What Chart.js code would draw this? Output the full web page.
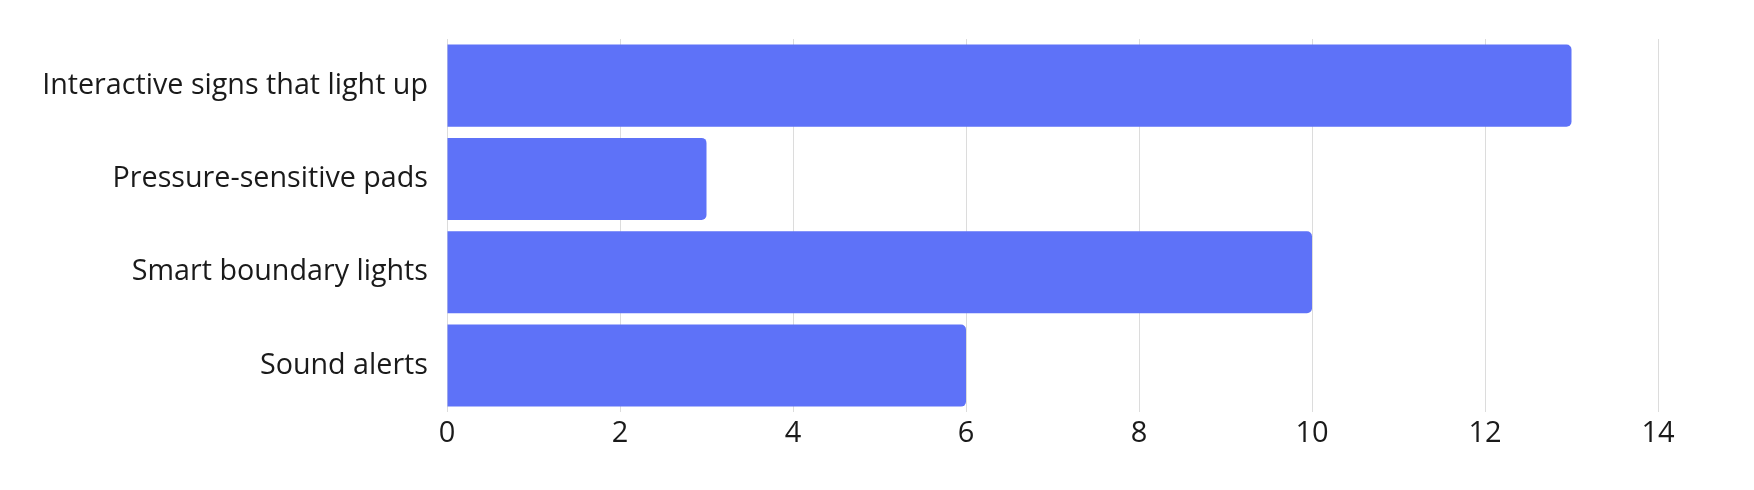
<!DOCTYPE html>
<html lang="en">
<head>
    <meta charset="UTF-8">
    <title>Feature Votes</title>
    <script src="https://cdn.jsdelivr.net/npm/chart.js"></script>
    <style>
        html, body { margin: 0; padding: 0; background: #fff; }
        #wrap { width: 1754px; height: 490px; }
    </style>
</head>
<body>
    <div id="wrap"><canvas id="featureChart"></canvas></div>
    <script>
        const categories = [
            'Interactive signs that light up',
            'Pressure-sensitive pads',
            'Smart boundary lights',
            'Sound alerts'
        ];
        const counts = [13, 3, 10, 6];
        const xTicks = [0, 2, 4, 6, 8, 10, 12, 14];

        const ctx = document.getElementById('featureChart').getContext('2d');
        const chart = new Chart(ctx, {
            type: 'bar',
            data: {
                labels: categories,
                datasets: [{
                    label: 'Count',
                    data: counts,
                    backgroundColor: 'rgb(94, 114, 248)',
                    borderWidth: 0,
                    borderRadius: 5,
                    borderSkipped: 'start',
                    barPercentage: 0.88,
                    categoryPercentage: 1.0
                }]
            },
            options: {
                indexAxis: 'y',
                responsive: true,
                maintainAspectRatio: false,
                animation: false,
                layout: {
                    padding: { top: 39, right: 96, bottom: 35, left: 0 }
                },
                plugins: {
                    legend: { display: false },
                    tooltip: { enabled: false }
                },
                scales: {
                    x: {
                        min: 0,
                        max: 14,
                        afterBuildTicks: scale => {
                            scale.ticks = xTicks.map(v => ({ value: v }));
                        },
                        grid: {
                            color: '#dcdcdc',
                            lineWidth: 1,
                            drawTicks: false
                        },
                        border: { display: false },
                        ticks: {
                            padding: 4,
                            color: '#1a1a1a',
                            font: { family: 'Open Sans', size: 29 }
                        }
                    },
                    y: {
                        afterFit: scale => { scale.width = 447; },
                        grid: { display: false, drawTicks: false },
                        border: { display: false },
                        ticks: {
                            padding: 19,
                            color: '#1a1a1a',
                            font: { family: 'Open Sans', size: 28.7 }
                        }
                    }
                }
            }
        });
    </script>
</body>
</html>
